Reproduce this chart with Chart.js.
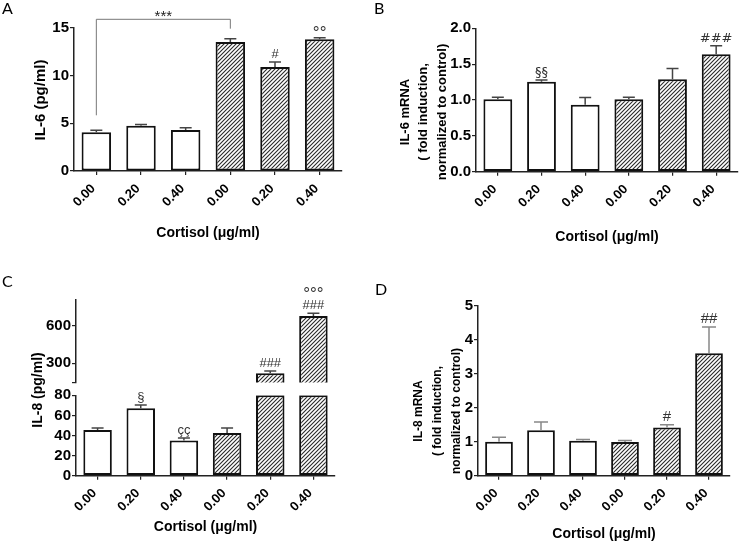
<!DOCTYPE html>
<html>
<head>
<meta charset="utf-8">
<script src="https://cdn.jsdelivr.net/npm/chart.js@4.4.1/dist/chart.umd.min.js"></script>
<style>
  body { margin: 0; background: #fff; }
  #wrap { position: relative; width: 740px; height: 544px; }
  canvas { position: absolute; }
</style>
</head>
<body>
<div id="wrap">
  <canvas id="chartA" width="370" height="272" style="left:0;top:0"></canvas>
  <canvas id="chartB" width="370" height="272" style="left:370px;top:0"></canvas>
  <canvas id="chartC" width="370" height="272" style="left:0;top:272px"></canvas>
  <canvas id="chartD" width="370" height="272" style="left:370px;top:272px"></canvas>
</div>
<script>
// Data
const doses = ['0.00', '0.20', '0.40', '0.00', '0.20', '0.40'];
const hatched = [false, false, false, true, true, true];

const il6Protein = [4.05, 4.74, 4.29, 13.5, 10.88, 13.78];
const il6ProteinSem = [0.21, 0.14, 0.24, 0.35, 0.53, 0.17];
const il6ProteinMarks = ['', '', '', '', '#', '°°'];

const il6Mrna = [1.01, 1.256, 0.935, 1.01, 1.288, 1.637];
const il6MrnaSem = [0.027, 0.024, 0.10, 0.027, 0.15, 0.12];
const il6MrnaMarks = ['', '§§', '', '', '', '###'];

const il8Protein = [45.4, 67, 35, 42.4, 220, 677];
const il8ProteinSem = [2.0, 3.4, 2.4, 5.0, 19, 22];
const il8ProteinMarks = ['', '§', 'çç', '', '###', ['°°°', '###']];

const il8Mrna = [1.0, 1.34, 1.03, 0.99, 1.42, 3.61];
const il8MrnaSem = [0.13, 0.24, 0.04, 0.05, 0.08, 0.77];
const il8MrnaMarks = ['', '', '', '', '#', '##'];

// broken axis of panel C
const il8LowMax = 80;
const il8HighMin = 147;
const il8HighMax = 805;
const il8HighTicks = [300, 600];

const axisColor = '#222';
const fontFamily = "'Liberation Sans', Arial, sans-serif";

// diagonal hatching
function makeHatch() {
    const c = document.createElement('canvas');
    c.width = 4;
    c.height = 4;
    const g = c.getContext('2d');
    g.fillStyle = '#fff';
    g.fillRect(0, 0, 4, 4);
    g.strokeStyle = '#2a2a2a';
    g.lineWidth = 1.1;
    g.beginPath();
    g.moveTo(0, 4); g.lineTo(4, 0);
    g.moveTo(-1, 1); g.lineTo(1, -1);
    g.moveTo(3, 5); g.lineTo(5, 3);
    g.stroke();
    return g.createPattern(c, 'repeat');
}
const hatch = makeHatch();
const barFill = hatched.map(h => h ? hatch : '#fff');

// error bars, significance marks and bracket
const errorBars = {
    id: 'errorBars',
    afterDatasetsDraw(chart, args, o) {
        const ctx = chart.ctx;
        ctx.save();
        chart.data.datasets.forEach((ds, di) => {
            const meta = chart.getDatasetMeta(di);
            const scale = chart.scales[meta.yAxisID];
            meta.data.forEach((bar, i) => {
                const v = ds.data[i];
                if (v == null) return;
                let top = bar.y;
                const e = ds.errors ? ds.errors[i] : null;
                if (e != null) {
                    top = scale.getPixelForValue(v + e);
                    ctx.strokeStyle = o.color;
                    ctx.lineWidth = o.width;
                    ctx.beginPath();
                    ctx.moveTo(bar.x, bar.y);
                    ctx.lineTo(bar.x, top);
                    ctx.moveTo(bar.x - o.cap, top);
                    ctx.lineTo(bar.x + o.cap, top);
                    ctx.stroke();
                }
                ds.tops = ds.tops || [];
                ds.tops[i] = top;
                const mark = ds.marks ? ds.marks[i] : null;
                if (mark) {
                    const lines = Array.isArray(mark) ? mark : [mark];
                    ctx.fillStyle = o.markColor;
                    ctx.textAlign = 'center';
                    ctx.textBaseline = 'alphabetic';
                    lines.slice().reverse().forEach((line, k) => {
                        // small rings are drawn a bit larger than the font's degree sign
                        const ring = /^°+$/.test(line);
                        ctx.font = ring ? '17px ' + fontFamily : o.markFont;
                        ctx.fillText(line, bar.x, top - o.gap - k * o.markLine + (ring ? 4 : 0));
                    });
                }
            });
        });
        if (o.bracket) {
            const b = o.bracket;
            const ds = chart.data.datasets[0];
            const bars = chart.getDatasetMeta(0).data;
            const y = chart.chartArea.top - 8.4;
            const x1 = bars[b.from].x, x2 = bars[b.to].x;
            ctx.strokeStyle = '#777';
            ctx.lineWidth = 1;
            ctx.beginPath();
            ctx.moveTo(x1, ds.tops[b.from] - 15);
            ctx.lineTo(x1, y);
            ctx.lineTo(x2, y);
            ctx.lineTo(x2, ds.tops[b.to] - 10);
            ctx.stroke();
            ctx.fillStyle = '#222';
            ctx.font = '15px ' + fontFamily;
            ctx.textAlign = 'center';
            ctx.textBaseline = 'alphabetic';
            ctx.fillText(b.text, (x1 + x2) / 2, y + 2);
        }
        ctx.restore();
    }
};

// panel letter and rotated y title
const panelText = {
    id: 'panelText',
    afterDraw(chart, args, o) {
        const ctx = chart.ctx;
        ctx.save();
        ctx.fillStyle = '#000';
        ctx.font = "16px Lato, 'Open Sans', sans-serif";
        ctx.textAlign = 'left';
        ctx.textBaseline = 'alphabetic';
        ctx.fillText(o.letter, o.letterX, o.letterY);
        ctx.font = o.titleFont;
        ctx.translate(o.titleX, o.titleY);
        ctx.rotate(-Math.PI / 2);
        ctx.textAlign = 'center';
        ctx.textBaseline = 'middle';
        o.title.forEach((line, i) => ctx.fillText(line, 0, i * o.lineHeight));
        ctx.restore();
    }
};

function xAxis(height, titlePad) {
    return {
        type: 'category',
        offset: true,
        grid: { offset: false, drawOnChartArea: false, tickLength: 4, color: axisColor, lineWidth: 1.2 },
        border: { color: axisColor, width: 1.5 },
        ticks: {
            autoSkip: false, minRotation: 45, maxRotation: 45, padding: 6, labelOffset: -3,
            color: '#000', font: { family: fontFamily, size: 13, weight: 'bold' }
        },
        title: {
            display: true, text: 'Cortisol (μg/ml)', color: '#000',
            font: { family: fontFamily, size: 14, weight: 'bold' },
            padding: { top: 0, bottom: titlePad }
        },
        afterFit: s => { s.height = height; }
    };
}

function yTicks(step, extra) {
    return Object.assign({
        stepSize: step, autoSkip: false, padding: 1, color: '#000',
        font: { family: fontFamily, size: 15, weight: 'bold' }
    }, extra || {});
}

function yAxis(width, min, max, step, extra) {
    return Object.assign({
        type: 'linear',
        position: 'left',
        min: min,
        max: max,
        grid: { drawOnChartArea: false, tickLength: 4, color: axisColor, lineWidth: 1.2 },
        border: { color: axisColor, width: 1.5 },
        ticks: yTicks(step),
        afterFit: s => { s.width = width; }
    }, extra || {});
}

function barSet(values, errors, marks, extra) {
    return Object.assign({
        data: values,
        errors: errors,
        marks: marks,
        backgroundColor: barFill,
        borderColor: '#111',
        borderWidth: 2,
        borderSkipped: false,
        barPercentage: 0.66,
        categoryPercentage: 1
    }, extra || {});
}

function baseOptions(padding, plugins, scales) {
    return {
        responsive: false,
        animation: false,
        layout: { padding: padding },
        plugins: Object.assign({ legend: { display: false }, tooltip: { enabled: false } }, plugins),
        scales: scales
    };
}

// A: IL-6 protein
new Chart(document.getElementById('chartA'), {
    type: 'bar',
    data: { labels: doses, datasets: [barSet(il6Protein, il6ProteinSem, il6ProteinMarks)] },
    options: baseOptions({ left: 0, right: 28, top: 27.7, bottom: 0 }, {
        errorBars: { color: '#444', width: 1.5, cap: 6, gap: 4, markLine: 14, markColor: '#333',
            markFont: '13px ' + fontFamily, bracket: { from: 0, to: 3, text: '***' } },
        panelText: { letter: 'A', letterX: 2, letterY: 13.5, title: ['IL-6 (pg/ml)'],
            titleFont: 'bold 15px ' + fontFamily, titleX: 40.7, titleY: 100, lineHeight: 18 }
    }, {
        x: xAxis(101, 30.6),
        y: yAxis(74, 0, 15, 5)
    }),
    plugins: [errorBars, panelText]
});

// B: IL-6 mRNA
new Chart(document.getElementById('chartB'), {
    type: 'bar',
    data: { labels: doses, datasets: [barSet(il6Mrna, il6MrnaSem, il6MrnaMarks)] },
    options: baseOptions({ left: 0, right: 2, top: 28.3, bottom: 0 }, {
        errorBars: { color: '#444', width: 1.5, cap: 6, gap: 4, markLine: 14, markColor: '#333',
            markFont: "13px 'DejaVu Sans', sans-serif" },
        panelText: { letter: 'B', letterX: 4, letterY: 13.5,
            title: ['IL-6 mRNA', '( fold induction,', 'normalized to control)'],
            titleFont: 'bold 13px ' + fontFamily, titleX: 35, titleY: 112, lineHeight: 18.5 }
    }, {
        x: xAxis(100.3, 26.9),
        y: yAxis(106, 0, 2, 0.5, { ticks: yTicks(0.5, { callback: v => v.toFixed(1) }) })
    }),
    plugins: [errorBars, panelText]
});

// C: IL-8 protein, broken y axis
const il8LowData = il8Protein.map(v => Math.min(v, il8LowMax));
const il8HighData = il8Protein.map(v => v > il8LowMax ? v : null);
new Chart(document.getElementById('chartC'), {
    type: 'bar',
    data: {
        labels: doses,
        datasets: [
            barSet(il8LowData,
                il8ProteinSem.map((e, i) => il8Protein[i] > il8LowMax ? null : e),
                il8ProteinMarks.map((m, i) => il8Protein[i] > il8LowMax ? '' : m),
                { yAxisID: 'yLow', grouped: false }),
            barSet(il8HighData,
                il8ProteinSem.map((e, i) => il8Protein[i] > il8LowMax ? e : null),
                il8ProteinMarks.map((m, i) => il8Protein[i] > il8LowMax ? m : ''),
                { yAxisID: 'yHigh', grouped: false })
        ]
    },
    options: baseOptions({ left: 0, right: 35, top: 28, bottom: 0 }, {
        errorBars: { color: '#444', width: 1.5, cap: 6, gap: 4, markLine: 14, markColor: '#333',
            markFont: '13px ' + fontFamily },
        panelText: { letter: 'C', letterX: 2, letterY: 15, title: ['IL-8 (pg/ml)'],
            titleFont: 'bold 14px ' + fontFamily, titleX: 38.5, titleY: 118, lineHeight: 18 }
    }, {
        x: xAxis(68.3, 8.6),
        // stacked scales are laid out bottom-up in declaration order
        yLow: yAxis(76, 0, il8LowMax, 20, { stack: 'il8', stackWeight: 80.4 }),
        yGap: yAxis(76, 0, 1, 1, {
            stack: 'il8', stackWeight: 12.8,
            grid: { display: false }, border: { display: false }, ticks: { display: false }
        }),
        yHigh: yAxis(76, il8HighMin, il8HighMax, 300, {
            stack: 'il8', stackWeight: 82.5, bounds: 'data',
            afterBuildTicks: s => { s.ticks = [il8HighMin].concat(il8HighTicks).map(v => ({ value: v })); },
            ticks: yTicks(300, { callback: v => v === il8HighMin ? '' : v })
        })
    }),
    plugins: [errorBars, panelText]
});

// D: IL-8 mRNA
new Chart(document.getElementById('chartD'), {
    type: 'bar',
    data: { labels: doses, datasets: [barSet(il8Mrna, il8MrnaSem, il8MrnaMarks)] },
    options: baseOptions({ left: 0, right: 10, top: 34, bottom: 0 }, {
        errorBars: { color: '#888', width: 1.5, cap: 7, gap: 4, markLine: 14, markColor: '#333',
            markFont: '15px ' + fontFamily },
        panelText: { letter: 'D', letterX: 5, letterY: 22.7,
            title: ['IL-8 mRNA', '( fold induction,', 'normalized to control)'],
            titleFont: 'bold 12px ' + fontFamily, titleX: 49, titleY: 139, lineHeight: 19 }
    }, {
        x: xAxis(68.3, 1.9),
        y: yAxis(108, 0, 5, 1)
    }),
    plugins: [errorBars, panelText]
});
</script>
</body>
</html>
